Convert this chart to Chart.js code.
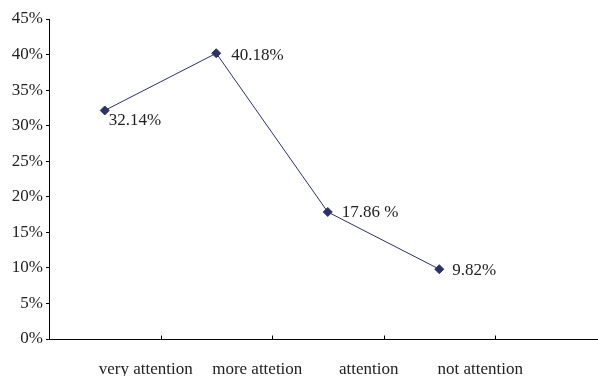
<!DOCTYPE html>
<html>
<head>
<meta charset="utf-8">
<script src="https://cdn.jsdelivr.net/npm/chart.js@4/dist/chart.umd.min.js"></script>
<style>
  html, body { margin: 0; padding: 0; background: #fff; overflow: hidden; }
  #wrap { width: 612px; height: 376px; }
</style>
</head>
<body>
<div id="wrap"><canvas id="chart"></canvas></div>
<script>
// categories (last slot is empty in the original chart)
const categorias = ["very attention", "more attetion", "attention", "not attention", ""];
const porcentajes = [32.14, 40.18, 17.86, 9.82];
const etiquetas = ["32.14%", "40.18%", "17.86 %", "9.82%"];
const yTicks = [0, 5, 10, 15, 20, 25, 30, 35, 40, 45];

const fuente = { family: "'Liberation Serif', 'Times New Roman', serif", size: 17 };
const colorLinea = "#2e3168";

// dibuja las etiquetas de cada punto
const etiquetasPlugin = {
  id: "etiquetas",
  afterDatasetsDraw(chart, args, opts) {
    const ctx = chart.ctx;
    const meta = chart.getDatasetMeta(0);
    ctx.save();
    ctx.font = fuente.size + "px " + fuente.family;
    ctx.fillStyle = "#222";
    ctx.textAlign = "left";
    ctx.textBaseline = "middle";
    meta.data.forEach((pt, i) => {
      const off = opts.offsets[i] || [8, 0];
      ctx.fillText(etiquetas[i], pt.x + off[0], pt.y + off[1]);
    });
    ctx.restore();
  },
};

// marcas del eje x hacia adentro, entre categorias
const marcasPlugin = {
  id: "marcas",
  afterDraw(chart) {
    const x = chart.scales.x;
    const ctx = chart.ctx;
    const base = Math.round(chart.chartArea.bottom) + 0.5;
    ctx.save();
    ctx.strokeStyle = "#000";
    ctx.lineWidth = 1;
    ctx.beginPath();
    for (let i = 1; i < categorias.length; i++) {
      const px = Math.round(x.getPixelForValue(i - 0.5)) + 0.5;
      ctx.moveTo(px, base);
      ctx.lineTo(px, base - 4);
    }
    ctx.stroke();
    ctx.restore();
  },
};

const context = document.getElementById("chart").getContext("2d");
new Chart(context, {
  type: "line",
  data: {
    labels: categorias,
    datasets: [
      {
        label: "porcentaje",
        data: porcentajes,
        borderColor: colorLinea,
        backgroundColor: colorLinea,
        borderWidth: 1,
        pointStyle: "rectRot",
        pointRadius: 4.5,
        pointHoverRadius: 4.5,
        tension: 0,
      },
    ],
  },
  options: {
    responsive: true,
    maintainAspectRatio: false,
    animation: false,
    layout: { padding: { top: 19, right: 1, left: 0, bottom: 0 } },
    scales: {
      x: {
        type: "category",
        offset: true,
        grid: {
          offset: true,
          drawOnChartArea: false,
          drawTicks: false,
          color: "#000",
        },
        border: { color: "#000", width: 1 },
        ticks: {
          font: fuente,
          color: "#222",
          padding: 20,
          labelOffset: 41,
          maxRotation: 0,
          autoSkip: false,
        },
        afterFit(scale) {
          scale.height = 37;
        },
      },
      y: {
        min: 0,
        max: 45,
        afterBuildTicks(scale) {
          scale.ticks = yTicks.map((v) => ({ value: v }));
        },
        grid: {
          drawOnChartArea: false,
          tickLength: 3,
          color: "#000",
        },
        border: { color: "#000", width: 1 },
        ticks: {
          font: fuente,
          color: "#222",
          padding: 3,
          callback: (v) => v + "%",
        },
        afterFit(scale) {
          scale.width = 49;
        },
      },
    },
    plugins: {
      legend: { display: false },
      tooltip: { enabled: false },
      etiquetas: {
        offsets: [[4, 10], [15, 2], [14, 1], [13, 1]],
      },
    },
  },
  plugins: [etiquetasPlugin, marcasPlugin],
});
</script>
</body>
</html>
